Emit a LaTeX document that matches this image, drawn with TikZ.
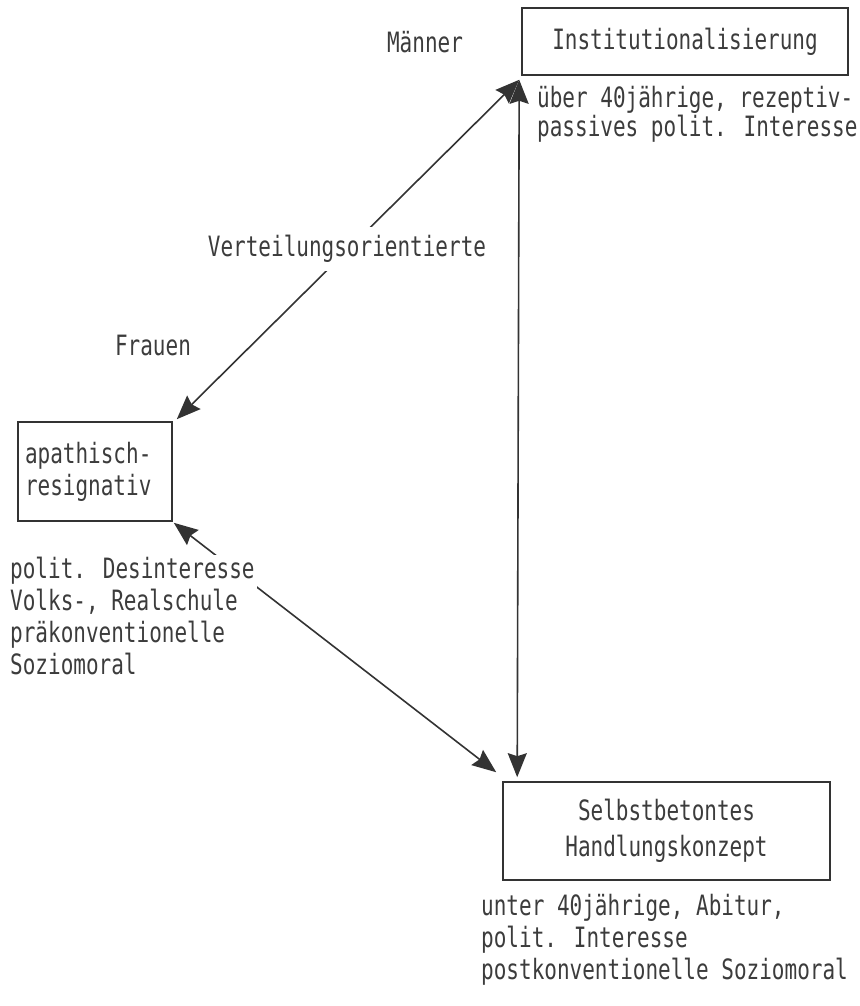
\documentclass[tikz,border=0pt]{standalone}
\usepackage{fontspec}
\newfontfamily\tw[FakeStretch=0.75]{DejaVu Sans Mono}
\usetikzlibrary{arrows.meta}
\definecolor{ink}{HTML}{3c3c3c}
\definecolor{lineink}{HTML}{333333}
\tikzset{
  txt/.style={font=\tw\fontsize{28}{32}\selectfont, text=ink, inner sep=2pt},
  boxnode/.style={txt, draw=lineink, line width=1.6pt},
  conn/.style={draw=lineink, line width=1.6pt, {Stealth[length=24pt,width=19pt,inset=3pt]}-{Stealth[length=24pt,width=19pt,inset=3pt]}},
}
\begin{document}
\begin{tikzpicture}[x=1pt,y=-1pt]
\useasboundingbox (0,0) rectangle (859,1006);
\fill[white] (0,0) rectangle (859,1006);

% boxes
\node[boxnode, minimum width=326pt, minimum height=67pt] (inst) at (685,41.5) {Institutionalisierung};
\node[boxnode, minimum width=154pt, minimum height=99pt, align=left, text width=140pt] (apa) at (95,471.5) {apathisch-\\resignativ};
\node[boxnode, minimum width=327pt, minimum height=98pt, align=center, font=\tw\fontsize{28}{36}\selectfont] (selbst) at (666.5,831) {Selbstbetontes\\Handlungskonzept};

% connectors
\coordinate (instC) at ([shift={(-2,4)}]inst.south west);
\coordinate (apaTop) at ([shift={(4,-2)}]apa.north east);
\coordinate (apaBot) at ([shift={(1,1)}]apa.south east);
\coordinate (selC) at ([shift={(-6,-9)}]selbst.north west);
\coordinate (selTop) at ([shift={(15,-4)}]selbst.north west);
\coordinate (instBot) at ([shift={(-2,4)}]inst.south west);

\draw[conn] (apaTop) -- (instC);
\draw[conn] (instBot) -- (selTop);
\draw[conn] (apaBot) -- (selC);

% labels
\node[txt] (maenner) at (425,42) {Männer};
\node[txt] (frauen) at (153,345) {Frauen};
\node[txt, fill=white, inner xsep=4pt, inner ysep=8pt] (vert) at (347,249) {Verteilungsorientierte};
\node[txt, anchor=west, align=left, font=\tw\fontsize{28}{29}\selectfont] (ueber) at (535,114) {über 40jährige, rezeptiv-\\passives polit. Interesse};
\node[txt, anchor=west, align=left, fill=white] (desint) at (8,616) {polit. Desinteresse\\Volks-, Realschule\\präkonventionelle\\Soziomoral};
\node[txt, anchor=west, align=left] (unter) at (479,940) {unter 40jährige, Abitur,\\polit. Interesse\\postkonventionelle Soziomoral};
\end{tikzpicture}
\end{document}
